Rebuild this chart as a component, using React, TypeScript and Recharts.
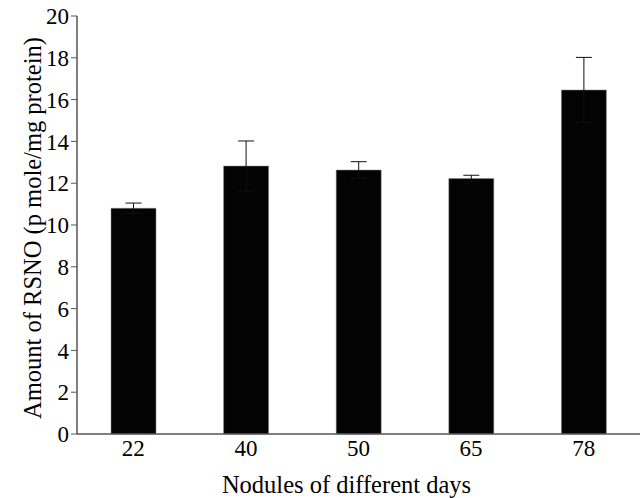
import React from 'react';
import { BarChart, Bar, XAxis, YAxis, ErrorBar } from 'recharts';

const days = ['22', '40', '50', '65', '78'];
const rsnoValues = [10.8, 12.82, 12.63, 12.22, 16.46];
const rsnoErrors = [0.25, 1.2, 0.4, 0.16, 1.56];
const yTicks = [0, 2, 4, 6, 8, 10, 12, 14, 16, 18, 20];

const data = days.map((d, i) => ({ day: d, value: rsnoValues[i], err: rsnoErrors[i] }));

const FONT = "'Liberation Serif', 'Times New Roman', serif";
const titleStyle: React.CSSProperties = { fontFamily: FONT, fontSize: '24.5px', fill: '#000' };
const tickStyle: React.CSSProperties = { fontFamily: FONT, fontSize: '23px', fill: '#000' };

const YTitle = (props: any) => {
  const vb = props.viewBox || {};
  const cy = (vb.y || 0) + (vb.height || 0) / 2 + 3;
  const cx = 32;
  return (
    <text
      x={cx}
      y={cy}
      transform={`rotate(-90, ${cx}, ${cy})`}
      textAnchor="middle"
      dominantBaseline="central"
      style={titleStyle}
    >
      Amount of RSNO (p mole/mg protein)
    </text>
  );
};

const XTitle = (props: any) => {
  const vb = props.viewBox || {};
  const cx = (vb.x || 0) + (vb.width || 0) / 2 - 12;
  return (
    <text x={cx} y={493} textAnchor="middle" style={titleStyle}>
      Nodules of different days
    </text>
  );
};

export default function App() {
  return (
    <div style={{ position: 'absolute', left: 0, top: 0, background: '#fff', fontFamily: FONT }}>
      <BarChart
        width={641}
        height={498}
        data={data}
        margin={{ top: 16, right: 1, bottom: 0, left: 0 }}
        barSize={45}
        style={{ fontFamily: FONT }}
      >
        <XAxis
          dataKey="day"
          height={64}
          tickLine={false}
          tickSize={0}
          tickMargin={6}
          axisLine={{ stroke: '#555', strokeWidth: 1.5 }}
          tick={{ style: tickStyle, fill: '#000', fontSize: 23 }}
          label={<XTitle />}
        />
        <YAxis
          width={77}
          domain={[0, 20]}
          ticks={yTicks}
          interval={0}
          tickSize={6}
          tickMargin={2}
          axisLine={{ stroke: '#555', strokeWidth: 1.5 }}
          tickLine={{ stroke: '#555' }}
          tick={{ style: tickStyle, fill: '#000', fontSize: 23 }}
          label={<YTitle />}
        />
        <Bar dataKey="value" fill="#030303" stroke="#888" strokeWidth={0.5} isAnimationActive={false}>
          <ErrorBar dataKey="err" width={8} stroke="#111" strokeWidth={1} direction="y" />
        </Bar>
      </BarChart>
    </div>
  );
}
